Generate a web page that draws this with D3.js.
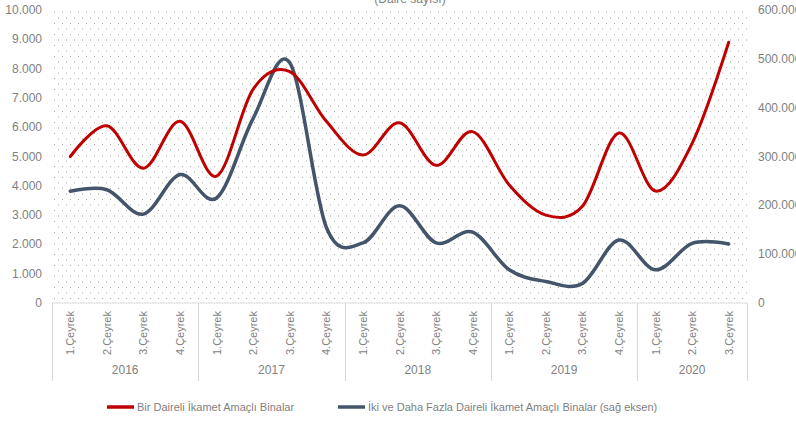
<!DOCTYPE html>
<html>
<head>
<meta charset="utf-8">
<script src="https://d3js.org/d3.v7.min.js"></script>
<style>
  body { margin: 0; background: #fff; }
  text { font-family: "Liberation Sans", Arial, sans-serif; fill: #7f7f7f; }
</style>
</head>
<body>
<div id="chart"></div>
<script>
const years = ['2016', '2017', '2018', '2019', '2020']
const quarters = [
  ['1.Çeyrek', '2.Çeyrek', '3.Çeyrek', '4.Çeyrek'],
  ['1.Çeyrek', '2.Çeyrek', '3.Çeyrek', '4.Çeyrek'],
  ['1.Çeyrek', '2.Çeyrek', '3.Çeyrek', '4.Çeyrek'],
  ['1.Çeyrek', '2.Çeyrek', '3.Çeyrek', '4.Çeyrek'],
  ['1.Çeyrek', '2.Çeyrek', '3.Çeyrek']
]
// tek daireli binalar (sol eksen)
const singleUnit = [5000, 6050, 4600, 6200, 4330, 7300, 7900, 6200, 5050, 6150, 4700, 5850, 4030, 3000, 3300, 5800, 3820, 5450, 8900]
// iki ve daha fazla daireli (sag eksen)
const multiUnit = [229000, 232000, 182000, 263000, 215000, 378000, 492000, 155000, 123000, 199000, 123000, 145000, 68000, 44000, 40000, 129000, 68000, 122000, 121000]
const leftTicks = [0, 1000, 2000, 3000, 4000, 5000, 6000, 7000, 8000, 9000, 10000]
const rightTicks = [0, 100000, 200000, 300000, 400000, 500000, 600000]

const names = ['Bir Daireli İkamet Amaçlı Binalar', 'İki ve Daha Fazla Daireli İkamet Amaçlı Binalar (sağ eksen)']
const colors = ['#c00000', '#44546a']

const w = 796, h = 421
const m = { top: 10, left: 52, right: 49, bottom: 118 }

const cats = []
quarters.forEach((qs, yi) => qs.forEach(q => cats.push(years[yi] + '-' + q)))

const svg = d3.select('#chart').append('svg')
  .attr('width', w).attr('height', h)

const x = d3.scaleBand().domain(cats).range([m.left, w - m.right])
const yL = d3.scaleLinear().domain([0, 10000]).range([h - m.bottom, m.top])
const yR = d3.scaleLinear().domain([0, 600000]).range([h - m.bottom, m.top])
const fmt = d3.formatLocale({ decimal: ',', thousands: '.', grouping: [3], currency: ['', ''] }).format(',')

// dotted plot background
const pat = svg.append('defs').append('pattern')
  .attr('id', 'dots').attr('patternUnits', 'userSpaceOnUse')
  .attr('width', 8).attr('height', 11)
  .attr('x', m.left).attr('y', m.top)
pat.append('rect').attr('x', 2).attr('y', 2).attr('width', 1).attr('height', 1).attr('fill', '#a6a6a6')
pat.append('rect').attr('x', 6).attr('y', 7.5).attr('width', 1).attr('height', 1).attr('fill', '#a6a6a6')

svg.append('rect')
  .attr('x', m.left).attr('y', m.top)
  .attr('width', w - m.right - m.left).attr('height', h - m.bottom - m.top)
  .attr('fill', 'url(#dots)')

svg.append('text')
  .attr('x', 410).attr('y', 3)
  .attr('text-anchor', 'middle')
  .style('font-size', '12px')
  .text('(Daire sayısı)')

// left axis
svg.append('g').selectAll('text')
  .data(leftTicks).enter().append('text')
  .attr('x', 42).attr('y', d => yL(d) + 4)
  .attr('text-anchor', 'end')
  .style('font-size', '12px')
  .text(d => fmt(d))

// right axis
svg.append('g').selectAll('text')
  .data(rightTicks).enter().append('text')
  .attr('x', 758).attr('y', d => yR(d) + 4)
  .style('font-size', '12px')
  .text(d => fmt(d))

// x axis lines
const x0 = h - m.bottom
svg.append('line')
  .attr('x1', m.left).attr('x2', w - m.right)
  .attr('y1', x0).attr('y2', x0)
  .attr('stroke', '#d9d9d9')

let idx = 0
const bounds = [m.left]
years.forEach((yr, yi) => {
  const first = cats[idx]
  idx += quarters[yi].length
  const last = cats[idx - 1]
  const xs = x(first), xe = x(last) + x.bandwidth()
  bounds.push(xe)
  svg.append('text')
    .attr('x', (xs + xe) / 2).attr('y', 374)
    .attr('text-anchor', 'middle')
    .style('font-size', '12px')
    .text(yr)
})
svg.append('g').selectAll('line')
  .data(bounds).enter().append('line')
  .attr('x1', d => Math.round(d) + 0.5).attr('x2', d => Math.round(d) + 0.5)
  .attr('y1', x0).attr('y2', 381)
  .attr('stroke', '#d9d9d9')

svg.append('g').selectAll('text')
  .data(cats).enter().append('text')
  .attr('transform', d => `translate(${x(d) + x.bandwidth() / 2 + 4},311) rotate(-90)`)
  .attr('text-anchor', 'end')
  .style('font-size', '11px')
  .text(d => d.split('-')[1])

// lines
const curve = d3.curveCardinal.tension(0)
const lineL = d3.line()
  .x((d, i) => x(cats[i]) + x.bandwidth() / 2)
  .y(d => yL(d))
  .curve(curve)
const lineR = d3.line()
  .x((d, i) => x(cats[i]) + x.bandwidth() / 2)
  .y(d => yR(d))
  .curve(curve)

svg.append('path')
  .attr('d', lineR(multiUnit))
  .attr('fill', 'none').attr('stroke', colors[1])
  .attr('stroke-width', 3.5).attr('stroke-linecap', 'round')
svg.append('path')
  .attr('d', lineL(singleUnit))
  .attr('fill', 'none').attr('stroke', colors[0])
  .attr('stroke-width', 3).attr('stroke-linecap', 'round')

// legend
const legend = svg.append('g').attr('id', 'legend')
const legX = [107, 338]
names.forEach((n, i) => {
  legend.append('line')
    .attr('x1', legX[i]).attr('x2', legX[i] + 27)
    .attr('y1', 407).attr('y2', 407)
    .attr('stroke', colors[i]).attr('stroke-width', 3.5)
  legend.append('text')
    .attr('x', legX[i] + 30).attr('y', 411)
    .style('font-size', '11px')
    .text(n)
})
</script>
</body>
</html>
